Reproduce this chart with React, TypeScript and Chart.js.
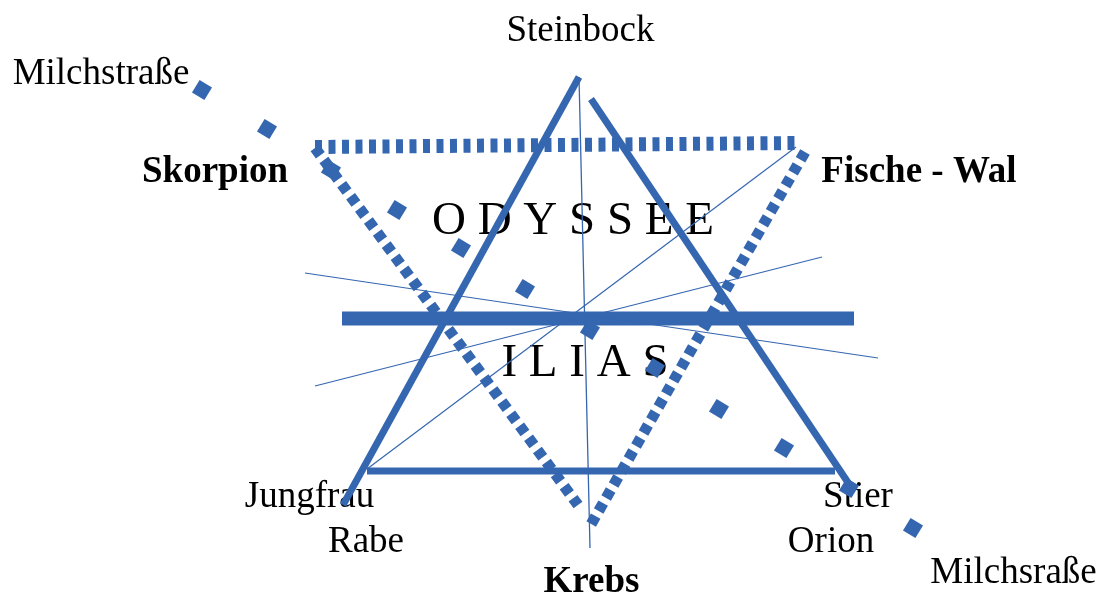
import React, { useEffect, useRef } from "react";
import { Chart, registerables } from "chart.js";

Chart.register(...registerables);

// Diagram coordinate space: x 0..1100, y 0..596 (top-down)
const solidLeft = [{ x: 343, y: 505 }, { x: 579, y: 77 }];
const solidRight = [{ x: 591, y: 99 }, { x: 853, y: 490 }];
const solidBase = [{ x: 367, y: 471 }, { x: 835, y: 471 }];
const eclipticBar = [{ x: 342, y: 318.5 }, { x: 854, y: 318.5 }];
const dottedTop = [{ x: 315, y: 147 }, { x: 798, y: 143 }];
const dottedLeft = [{ x: 315, y: 148 }, { x: 578, y: 505 }];
const dottedRight = [{ x: 805, y: 152 }, { x: 590, y: 526 }];
const thinVertical = [{ x: 579, y: 77 }, { x: 590, y: 548 }];
const thinA = [{ x: 305, y: 273 }, { x: 878, y: 358 }];
const thinB = [{ x: 315, y: 386 }, { x: 822, y: 257 }];
const thinC = [{ x: 367, y: 469 }, { x: 796, y: 147 }];
const milkyWay = [
  { x: 202, y: 90 }, { x: 267, y: 129 }, { x: 331, y: 170 }, { x: 397, y: 210 },
  { x: 461, y: 248 }, { x: 525, y: 289 }, { x: 590, y: 330 }, { x: 655, y: 368 },
  { x: 719, y: 409 }, { x: 784, y: 448 }, { x: 849, y: 488 }, { x: 913, y: 528 },
];

const labelTexts = [
  "Steinbock", "Milchstraße", "Skorpion", "Fische - Wal", "O D Y S S E E", "I L I A S",
  "Jungfrau", "Rabe", "Stier", "Orion", "Krebs", "Milchsraße",
];
const labelX = [580.5, 101, 215, 919, 573, 585, 309.5, 366, 858, 831, 591.5, 1013.5];
const labelY = [41, 84, 182, 182, 234, 376, 507, 552, 507, 552, 592, 583];
const labelBold = [false, false, true, true, false, false, false, false, false, false, true, false];
const labelBig = [false, false, false, false, true, true, false, false, false, false, false, false];

const BLUE = "#3566B0";

const textPlugin = {
  id: "diagramText",
  beforeDatasetsDraw(chart: any) {
    const { ctx, scales } = chart;
    ctx.save();
    ctx.fillStyle = "#000";
    ctx.textAlign = "center";
    ctx.textBaseline = "alphabetic";
    labelTexts.forEach((t, i) => {
      const size = labelBig[i] ? 47 : 37;
      ctx.font = `${labelBold[i] ? "bold " : ""}${size}px "Liberation Serif", "Times New Roman", serif`;
      ctx.fillText(t, scales.x.getPixelForValue(labelX[i]), scales.y.getPixelForValue(labelY[i]));
    });
    ctx.restore();
  },
};

function seg(data: any[], width: number, dash: number[] = []) {
  return {
    type: "line",
    data,
    borderColor: BLUE,
    backgroundColor: BLUE,
    borderWidth: width,
    borderDash: dash,
    borderCapStyle: "butt",
    pointRadius: 0,
    fill: false,
    tension: 0,
    showLine: true,
  };
}

export default function App() {
  const ref = useRef<HTMLCanvasElement>(null);
  useEffect(() => {
    if (!ref.current) return;
    const chart = new Chart(ref.current, {
      type: "scatter",
      data: {
        datasets: [
          seg(thinVertical, 1.3),
          seg(thinA, 1.2),
          seg(thinB, 1.2),
          seg(thinC, 1.2),
          seg(dottedTop, 14, [7, 6.5]),
          seg(dottedLeft, 11, [9, 6]),
          seg(dottedRight, 11, [9, 6]),
          seg(solidBase, 7),
          seg(solidLeft, 7),
          seg(solidRight, 7),
          seg(eclipticBar, 14),
          {
            type: "scatter",
            data: milkyWay,
            backgroundColor: BLUE,
            borderColor: BLUE,
            borderWidth: 0,
            pointStyle: "rect",
            pointRadius: 10.3,
            rotation: 31.6,
            showLine: false,
          },
        ] as any,
      },
      options: {
        responsive: false,
        animation: false,
        layout: { padding: 0, autoPadding: false },
        plugins: { legend: { display: false }, tooltip: { enabled: false } },
        scales: {
          x: { type: "linear", min: 0, max: 1100, display: false },
          y: { type: "linear", min: 0, max: 596, reverse: true, display: false },
        },
      },
      plugins: [textPlugin],
    } as any);
    return () => chart.destroy();
  }, []);
  return (
    <div style={{ position: "fixed", left: 0, top: 0, width: 1100, height: 596, background: "#fff" }}>
      <canvas ref={ref} width={1100} height={596} style={{ display: "block" }} />
    </div>
  );
}
